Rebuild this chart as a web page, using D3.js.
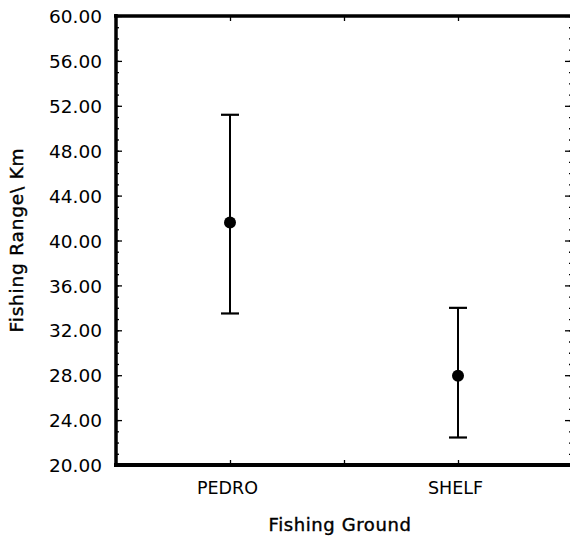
<!DOCTYPE html>
<html>
<head>
<meta charset="utf-8">
<script src="https://cdn.jsdelivr.net/npm/d3@7"></script>
<style>
  html, body { margin: 0; padding: 0; background: #fff; }
  svg text { font-family: "DejaVu Sans", sans-serif; fill: #000; }
</style>
</head>
<body>
<svg id="chart" width="570" height="539"></svg>
<script>
// Fishing range by fishing ground: mean with upper / lower bounds
const grounds = ["PEDRO", "SHELF"];
const groundPos = [1, 3];
const meanKm = [41.6, 27.95];
const upperKm = [51.2, 34.0];
const lowerKm = [33.5, 22.45];
const yTickValues = [20, 24, 28, 32, 36, 40, 44, 48, 52, 56, 60];

const svg = d3.select("#chart");
const plotLeft = 116, plotRight = 572, plotTop = 16, plotBottom = 465;

const x = d3.scaleLinear().domain([0, 4]).range([plotLeft, plotRight]);
const y = d3.scaleLinear().domain([20, 60]).range([plotBottom, plotTop]);

const fmt = d3.format(".2f");
const minorValues = d3.range(20, 61, 1);

// left axis: labelled major ticks pointing inward, plus minor ticks
const gL = svg.append("g").attr("transform", `translate(${plotLeft},0)`);
gL.call(d3.axisLeft(y).tickValues(yTickValues).tickFormat(fmt).tickSize(-6).tickPadding(14));
gL.append("g").call(d3.axisLeft(y).tickValues(minorValues).tickFormat("").tickSize(-3));
gL.selectAll("text").attr("font-size", 18.5).attr("dy", "0.36em");

// right axis (inward ticks)
const gR = svg.append("g").attr("transform", `translate(${plotRight},0)`);
gR.call(d3.axisRight(y).tickValues(yTickValues).tickFormat("").tickSize(-7));
gR.append("g").call(d3.axisRight(y).tickValues(minorValues).tickFormat("").tickSize(-3));

// bottom axis with category labels
const gB = svg.append("g").attr("transform", `translate(0,${plotBottom})`);
gB.call(d3.axisBottom(x).tickValues([1, 2, 3]).tickFormat(d => {
  const i = groundPos.indexOf(d);
  return i >= 0 ? grounds[i] : "";
}).tickSize(-5).tickPadding(17));
gB.selectAll("text").attr("font-size", 17.5).attr("dx", "-3");

// top axis
const gT = svg.append("g").attr("transform", `translate(0,${plotTop})`);
gT.call(d3.axisTop(x).tickValues([1, 2, 3]).tickFormat("").tickSize(-5));

svg.selectAll(".domain").attr("stroke", "#000");
svg.selectAll(".tick line").attr("stroke", "#000").attr("stroke-width", 1.3);

// heavy frame
const frame = svg.append("g").attr("stroke", "#000").attr("fill", "none");
frame.append("line").attr("x1", plotLeft).attr("x2", plotLeft).attr("y1", plotTop - 2).attr("y2", plotBottom + 2).attr("stroke-width", 3.5);
frame.append("line").attr("x1", plotLeft - 2).attr("x2", plotRight).attr("y1", plotBottom).attr("y2", plotBottom).attr("stroke-width", 4);
frame.append("line").attr("x1", plotLeft - 2).attr("x2", plotRight).attr("y1", plotTop).attr("y2", plotTop).attr("stroke-width", 3.5);
frame.append("line").attr("x1", plotRight).attr("x2", plotRight).attr("y1", plotTop).attr("y2", plotBottom).attr("stroke-width", 3.5);

// error bars and mean markers
const marks = svg.append("g");
grounds.forEach((g, i) => {
  const cx = x(groundPos[i]);
  marks.append("line").attr("x1", cx).attr("x2", cx)
    .attr("y1", y(upperKm[i])).attr("y2", y(lowerKm[i]))
    .attr("stroke", "#000").attr("stroke-width", 2);
  [upperKm[i], lowerKm[i]].forEach(v => {
    marks.append("line").attr("x1", cx - 9).attr("x2", cx + 9)
      .attr("y1", y(v)).attr("y2", y(v))
      .attr("stroke", "#000").attr("stroke-width", 2.2);
  });
  marks.append("circle").attr("cx", cx).attr("cy", y(meanKm[i])).attr("r", 6).attr("fill", "#000");
});

// axis titles
svg.append("text").attr("x", 340).attr("y", 531).attr("text-anchor", "middle")
  .attr("font-size", 18).attr("letter-spacing", 0.6)
  .attr("stroke", "#000").attr("stroke-width", 0.4).text("Fishing Ground");
svg.append("text").attr("transform", "translate(23,240) rotate(-90)").attr("text-anchor", "middle")
  .attr("font-size", 18.5).attr("letter-spacing", 0.8)
  .attr("stroke", "#000").attr("stroke-width", 0.4).text("Fishing Range\\ Km");
</script>
</body>
</html>
